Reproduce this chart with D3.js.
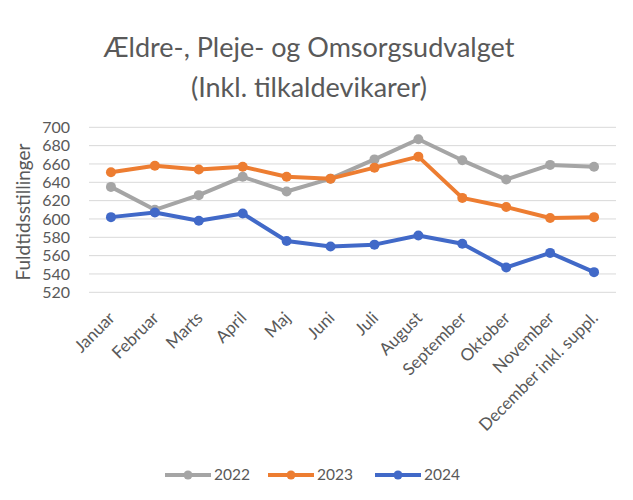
<!DOCTYPE html>
<html>
<head>
<meta charset="utf-8">
<script src="https://cdn.jsdelivr.net/npm/d3@7"></script>
<style>
  body { margin: 0; background: #fff; }
  text { font-family: Lato, "Open Sans", sans-serif; }
</style>
</head>
<body>
<div id="chart"></div>
<script>

// Data
const months = ["Januar", "Februar", "Marts", "April", "Maj", "Juni", "Juli",
  "August", "September", "Oktober", "November", "December inkl. suppl."]
const series_names = ["2022", "2023", "2024"]
const values_2022 = [635, 610, 626, 646, 630, 644, 665, 687, 664, 643, 659, 657]
const values_2023 = [651, 658, 654, 657, 646, 644, 656, 668, 623, 613, 601, 602]
const values_2024 = [602, 607, 598, 606, 576, 570, 572, 582, 573, 547, 563, 542]
const y_ticks = [520, 540, 560, 580, 600, 620, 640, 660, 680, 700]
const colors = ["#a5a5a5", "#ed7d31", "#4169c8"]

const WIDTH = 633, HEIGHT = 500
const margin = { left: 89, right: 17, top: 127, bottom: 208 }

let svg = d3.select("#chart").append("svg")
    .attr("width", WIDTH)
    .attr("height", HEIGHT)

// Title
let title = svg.append("text")
    .attr("text-anchor", "middle")
    .attr("fill", "#595959")
    .attr("font-size", 27)
title.append("tspan").attr("x", 309).attr("y", 57).text("Ældre-, Pleje- og Omsorgsudvalget")
title.append("tspan").attr("x", 309).attr("y", 97).text("(Inkl. tilkaldevikarer)")

let x = d3.scaleBand()
    .domain(months)
    .range([margin.left, WIDTH - margin.right])

let y = d3.scaleLinear()
    .domain([520, 700])
    .range([HEIGHT - margin.bottom + 0.3, margin.top + 0.3])

// Gridlines
svg.append("g")
    .selectAll("line")
    .data(y_ticks)
    .enter()
    .append("line")
        .attr("x1", margin.left)
        .attr("x2", WIDTH - margin.right)
        .attr("y1", d => y(d))
        .attr("y2", d => y(d))
        .attr("stroke", "#d9d9d9")
        .attr("stroke-width", 1)

// Y axis labels
let yAxis = svg.append("g")
    .attr("transform", "translate(" + (margin.left - 14) + ",0)")
    .call(d3.axisLeft(y).tickValues(y_ticks).tickSize(0).tickPadding(5))
yAxis.select(".domain").remove()
yAxis.selectAll("text")
    .attr("font-family", "Lato, 'Open Sans', sans-serif")
    .attr("font-size", 16)
    .attr("fill", "#595959")

svg.append("text")
    .attr("transform", "translate(30,212) rotate(-90)")
    .attr("text-anchor", "middle")
    .attr("font-size", 19)
    .attr("fill", "#595959")
    .text("Fuldtidsstillinger")

// X axis labels, rotated like the spreadsheet original
let xAxis = svg.append("g")
    .attr("transform", "translate(0," + (HEIGHT - margin.bottom) + ")")
    .call(d3.axisBottom(x).tickSize(0).tickPadding(0))
xAxis.select(".domain").remove()
xAxis.selectAll("text")
    .attr("font-family", "Lato, 'Open Sans', sans-serif")
    .attr("font-size", 17)
    .attr("fill", "#595959")
    .attr("text-anchor", "end")
    .attr("dy", 0)
    .attr("transform", "translate(5,27) rotate(-45)")

// Lines
let all_series = [values_2022, values_2023, values_2024]
let line = d3.line()
    .x((d, i) => x(months[i]) + x.bandwidth() / 2)
    .y(d => y(d))

let groups = svg.selectAll("g.series")
    .data(all_series)
    .enter()
    .append("g")
        .attr("class", "series")

groups.append("path")
    .attr("d", d => line(d))
    .attr("fill", "none")
    .attr("stroke", (d, i) => colors[i])
    .attr("stroke-width", 4)
    .attr("stroke-linejoin", "round")

groups.each(function (series, s)
{
  d3.select(this).selectAll("circle")
      .data(series)
      .enter()
      .append("circle")
          .attr("cx", (d, i) => x(months[i]) + x.bandwidth() / 2)
          .attr("cy", d => y(d))
          .attr("r", 5)
          .attr("fill", colors[s])
})

// Legend
let legend_x = [165, 268, 375]
let legend = svg.append("g")
    .selectAll("g")
    .data(series_names)
    .enter()
    .append("g")
        .attr("transform", (d, i) => "translate(" + legend_x[i] + ",475)")

legend.append("line")
    .attr("x1", 0).attr("x2", 46)
    .attr("stroke", (d, i) => colors[i])
    .attr("stroke-width", 4)
legend.append("circle")
    .attr("cx", 23).attr("r", 4.5)
    .attr("fill", (d, i) => colors[i])
legend.append("text")
    .attr("x", 49)
    .attr("dy", "0.35em")
    .attr("font-size", 15.5)
    .attr("fill", "#595959")
    .text(d => d)

</script>
</body>
</html>
